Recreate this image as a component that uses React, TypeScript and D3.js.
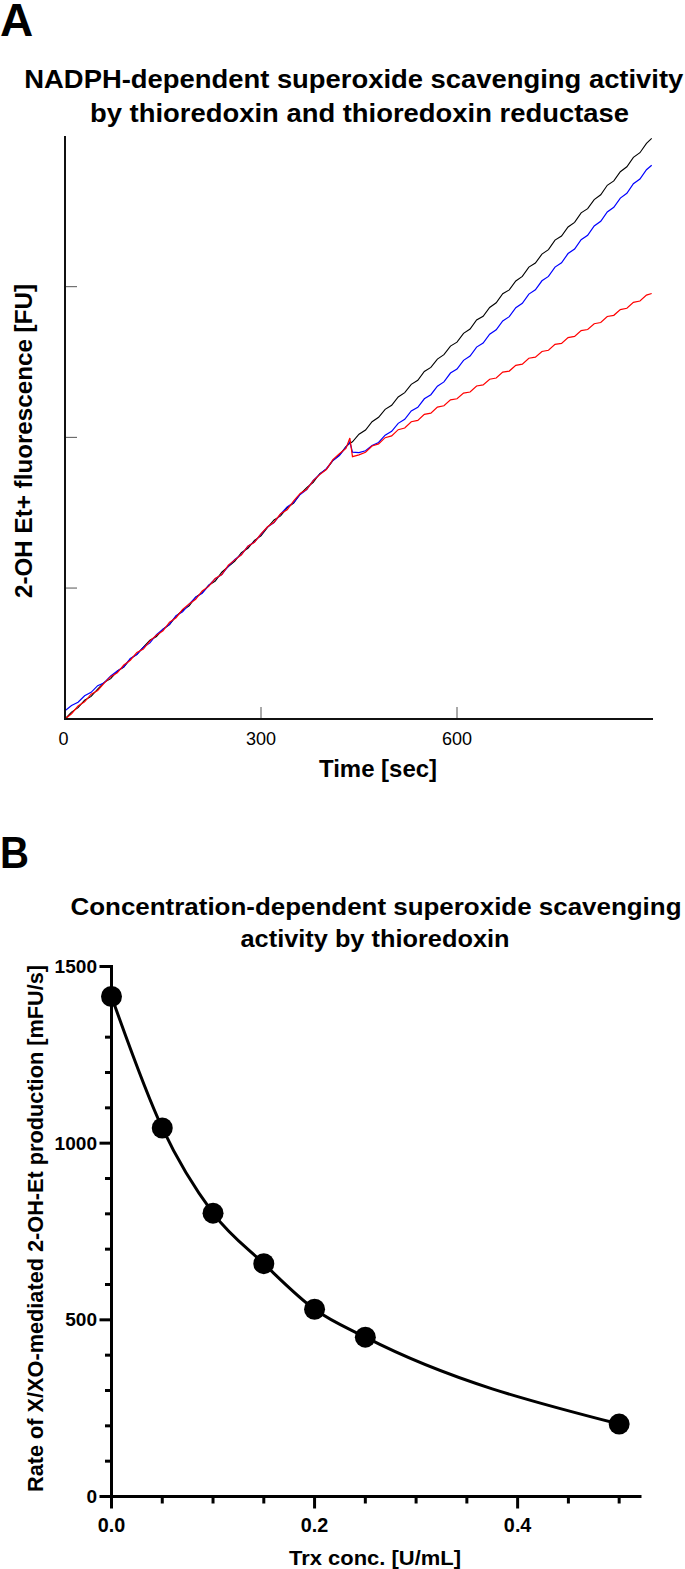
import React from 'react';
import * as d3 from 'd3';

// ---------- Panel A data (kinetic traces) ----------
const timeSec = [
  0, 10, 20, 30, 40, 50, 60, 70, 80, 90,
  100, 110, 120, 130, 140, 150, 160, 170, 180, 190,
  200, 210, 220, 230, 240, 250, 260, 270, 280, 290,
  300, 310, 320, 330, 340, 350, 360, 370, 380, 390,
  400, 410, 420, 430, 436, 440, 450, 460, 470, 480,
  490, 500, 510, 520, 530, 540, 550, 560, 570, 580,
  590, 600, 610, 620, 630, 640, 650, 660, 670, 680,
  690, 700, 710, 720, 730, 740, 750, 760, 770, 780,
  790, 800, 810, 820, 830, 840, 850, 860, 870, 880,
  890, 898,
];

const blackTrace = [
  131, 177, 206, 256, 281, 329, 374, 399, 448, 476,
  530, 560, 608, 654, 678, 727, 757, 813, 852, 882,
  939, 970, 1019, 1046, 1105, 1143, 1178, 1235, 1264, 1317,
  1346, 1402, 1452, 1479, 1532, 1564, 1624, 1666, 1702, 1760,
  1788, 1846, 1882, 1939, 1960, 1971, 2021, 2049, 2104, 2133,
  2186, 2213, 2268, 2297, 2352, 2379, 2437, 2464, 2519, 2549,
  2606, 2632, 2690, 2719, 2779, 2804, 2862, 2893, 2953, 2979,
  3038, 3068, 3130, 3157, 3216, 3246, 3309, 3336, 3396, 3427,
  3490, 3518, 3578, 3610, 3673, 3702, 3763, 3796, 3858, 3889,
  3951, 3984,
];

const blueTrace = [
  186, 220, 242, 285, 308, 352, 372, 417, 450, 478,
  532, 559, 608, 636, 691, 727, 760, 817, 843, 893,
  939, 965, 1017, 1062, 1089, 1145, 1190, 1222, 1277, 1305,
  1357, 1406, 1434, 1490, 1539, 1568, 1621, 1653, 1715, 1756,
  1792, 1847, 1879, 1936, 1970, 1902, 1899, 1911, 1946, 1966,
  2015, 2040, 2093, 2120, 2175, 2199, 2256, 2283, 2340, 2368,
  2427, 2453, 2511, 2540, 2599, 2626, 2685, 2714, 2773, 2801,
  2861, 2890, 2951, 2979, 3039, 3068, 3130, 3159, 3220, 3250,
  3312, 3341, 3403, 3434, 3496, 3527, 3588, 3620, 3683, 3714,
  3776, 3806,
];

const redTrace = [
  131, 166, 217, 245, 296, 320, 369, 412, 437, 489,
  521, 573, 595, 650, 687, 716, 773, 803, 859, 894,
  925, 981, 1011, 1063, 1090, 1152, 1187, 1221, 1278, 1304,
  1360, 1407, 1437, 1493, 1519, 1578, 1628, 1655, 1713, 1753,
  1787, 1852, 1891, 1927, 1996, 1872, 1884, 1901, 1943, 1957,
  1998, 2010, 2051, 2062, 2104, 2113, 2153, 2161, 2201, 2210,
  2249, 2256, 2294, 2301, 2341, 2348, 2386, 2394, 2433, 2440,
  2478, 2486, 2525, 2532, 2570, 2578, 2617, 2624, 2662, 2670,
  2709, 2716, 2754, 2762, 2802, 2810, 2848, 2857, 2896, 2905,
  2944, 2955,
];

const timeTickValues = [300, 600];
const timeTickLabels = ['0', '300', '600'];
const timeLabelValues = [0, 300, 600];
const fuTickValues = [1000, 2000, 3000];

// ---------- Panel B data ----------
const trxConc = [0, 0.05, 0.1, 0.15, 0.2, 0.25, 0.5];
const rateValues = [1415, 1043, 802, 659, 530, 451, 205];
const rateMajorTicks = [0, 500, 1000, 1500];
const rateMinorTicks = [100, 200, 300, 400, 600, 700, 800, 900, 1100, 1200, 1300, 1400];
const concMajorTicks = [0, 0.2, 0.4];
const concMinorTicks = [0.05, 0.1, 0.15, 0.25, 0.3, 0.35, 0.45, 0.5];
const concTickLabels = ['0.0', '0.2', '0.4'];

const FONT = '"Liberation Sans", Arial, Helvetica, sans-serif';

export default function App() {
  // Panel A scales
  const xA = d3.scaleLinear().domain([0, 900]).range([65, 653]);
  const yA = d3.scaleLinear().domain([131, 4000]).range([719, 136]);
  const lineA = (vals: number[]) =>
    d3
      .line<number>()
      .x((_, i) => xA(timeSec[i]))
      .y((d) => yA(d))(vals) || '';

  // Panel B scales
  const xB = d3.scaleLinear().domain([0, 0.522]).range([111.5, 641.5]);
  const yB = d3.scaleLinear().domain([0, 1500]).range([1496.5, 966.5]);
  const pts = trxConc.map((c, i) => [c, rateValues[i]] as [number, number]);
  const fitPath =
    d3
      .line<[number, number]>()
      .x((d) => xB(d[0]))
      .y((d) => yB(d[1]))
      .curve(d3.curveMonotoneX)(pts) || '';

  return (
    <svg
      width={685}
      height={1569}
      viewBox="0 0 685 1569"
      style={{ position: 'absolute', left: 0, top: 0, display: 'block', background: '#fff' }}
      fontFamily={FONT}
    >
      <rect x={0} y={0} width={685} height={1569} fill="#fff" />

      {/* ================= Panel A ================= */}
      <text x={0} y={36} fontSize={46} fontWeight="bold">A</text>
      <text x={353.8} y={88} fontSize={26} fontWeight="bold" textAnchor="middle" textLength={659} lengthAdjust="spacingAndGlyphs">
        NADPH-dependent superoxide scavenging activity
      </text>
      <text x={359.5} y={122} fontSize={26} fontWeight="bold" textAnchor="middle" textLength={539} lengthAdjust="spacingAndGlyphs">
        by thioredoxin and thioredoxin reductase
      </text>

      {/* ticks */}
      {fuTickValues.map((v) => (
        <line key={'fy' + v} x1={xA(0)} x2={xA(0) + 12} y1={yA(v)} y2={yA(v)} stroke="#555" strokeWidth={1} />
      ))}
      {timeTickValues.map((t) => (
        <line key={'tx' + t} x1={xA(t)} x2={xA(t)} y1={yA(131)} y2={yA(131) - 12} stroke="#555" strokeWidth={1} />
      ))}

      {/* traces */}
      <path d={lineA(blackTrace)} fill="none" stroke="#000" strokeWidth={1.1} />
      <path d={lineA(blueTrace)} fill="none" stroke="#0000ff" strokeWidth={1.2} />
      <path d={lineA(redTrace)} fill="none" stroke="#ff0000" strokeWidth={1.2} />

      {/* axes */}
      <line x1={xA(0)} x2={xA(0)} y1={yA(4000)} y2={yA(131) + 1} stroke="#111" strokeWidth={2} />
      <line x1={xA(0) - 1} x2={xA(900)} y1={yA(131)} y2={yA(131)} stroke="#111" strokeWidth={2.2} />

      {timeLabelValues.map((t, i) => (
        <text key={'tl' + t} x={xA(t) - (t === 0 ? 1.5 : 0)} y={745} fontSize={18} textAnchor="middle">
          {timeTickLabels[i]}
        </text>
      ))}
      <text x={378} y={777} fontSize={24} fontWeight="bold" textAnchor="middle" textLength={118} lengthAdjust="spacingAndGlyphs">
        Time [sec]
      </text>
      <text
        transform="translate(32,441) rotate(-90)"
        fontSize={23.5}
        fontWeight="bold"
        textAnchor="middle"
        textLength={314}
        lengthAdjust="spacingAndGlyphs"
      >
        2-OH Et+ fluorescence [FU]
      </text>

      {/* ================= Panel B ================= */}
      <text x={0} y={868} fontSize={44} fontWeight="bold" textLength={29} lengthAdjust="spacingAndGlyphs">B</text>
      <text x={376} y={915} fontSize={23} fontWeight="bold" textAnchor="middle" textLength={611} lengthAdjust="spacingAndGlyphs">
        Concentration-dependent superoxide scavenging
      </text>
      <text x={375} y={946.5} fontSize={23} fontWeight="bold" textAnchor="middle" textLength={269} lengthAdjust="spacingAndGlyphs">
        activity by thioredoxin
      </text>

      {/* axes B */}
      <line x1={xB(0)} x2={xB(0)} y1={yB(1500) - 1.5} y2={yB(0) + 1.5} stroke="#000" strokeWidth={3} />
      <line x1={xB(0) - 1.5} x2={xB(0.522)} y1={yB(0)} y2={yB(0)} stroke="#000" strokeWidth={3} />
      {rateMajorTicks.map((v) => (
        <line key={'rM' + v} x1={xB(0) - 12} x2={xB(0)} y1={yB(v)} y2={yB(v)} stroke="#000" strokeWidth={3} />
      ))}
      {rateMinorTicks.map((v) => (
        <line key={'rm' + v} x1={xB(0) - 6.5} x2={xB(0)} y1={yB(v)} y2={yB(v)} stroke="#000" strokeWidth={3} />
      ))}
      {concMajorTicks.map((c) => (
        <line key={'cM' + c} x1={xB(c)} x2={xB(c)} y1={yB(0)} y2={yB(0) + 12} stroke="#000" strokeWidth={3} />
      ))}
      {concMinorTicks.map((c) => (
        <line key={'cm' + c} x1={xB(c)} x2={xB(c)} y1={yB(0)} y2={yB(0) + 7} stroke="#000" strokeWidth={3} />
      ))}

      {/* fit curve + points */}
      <path d={fitPath} fill="none" stroke="#000" strokeWidth={3} />
      {pts.map((p, i) => (
        <circle key={'pt' + i} cx={xB(p[0])} cy={yB(p[1])} r={10.5} fill="#000" />
      ))}

      {/* tick labels B */}
      {rateMajorTicks.map((v) => {
        const s = String(v);
        return (
          <text key={'rl' + v} x={97} y={yB(v) + 6.5} fontSize={18.5} fontWeight="bold" textAnchor="end" textLength={s.length * 10.6} lengthAdjust="spacingAndGlyphs">
            {s}
          </text>
        );
      })}
      {concMajorTicks.map((c, i) => (
        <text key={'cl' + c} x={xB(c)} y={1531.5} fontSize={19.5} fontWeight="bold" textAnchor="middle" textLength={27.5} lengthAdjust="spacingAndGlyphs">
          {concTickLabels[i]}
        </text>
      ))}
      <text x={375} y={1564.5} fontSize={21} fontWeight="bold" textAnchor="middle" textLength={172} lengthAdjust="spacingAndGlyphs">
        Trx conc. [U/mL]
      </text>
      <text
        transform="translate(42.5,1228.5) rotate(-90)"
        fontSize={21.5}
        fontWeight="bold"
        textAnchor="middle"
        textLength={527}
        lengthAdjust="spacingAndGlyphs"
      >
        Rate of X/XO-mediated 2-OH-Et production [mFU/s]
      </text>
    </svg>
  );
}
